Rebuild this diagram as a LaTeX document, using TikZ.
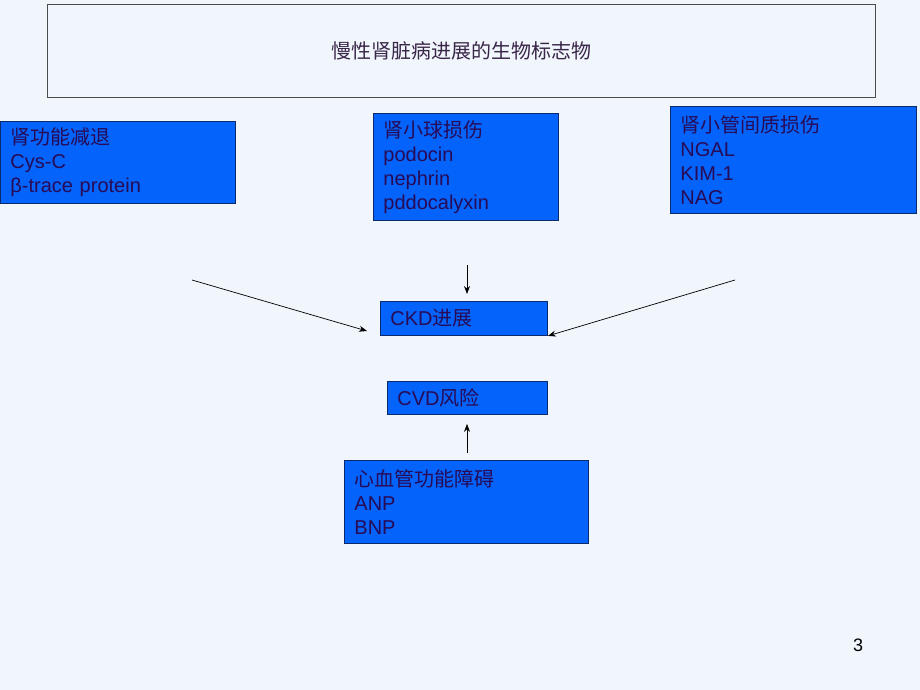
\documentclass[tikz,border=0pt]{standalone}
\usepackage{fontspec}
\setmainfont{Liberation Sans}
\newfontfamily\cjk{Noto Sans CJK SC}
\usetikzlibrary{arrows.meta}
\definecolor{bgc}{HTML}{F0F6FC}
\definecolor{boxc}{HTML}{0363FB}
\definecolor{boxline}{HTML}{0B2A6A}
\definecolor{txtc}{HTML}{280A55}
\definecolor{titlec}{HTML}{3A2648}
\begin{document}
\begin{tikzpicture}[x=1pt,y=-1pt,
  bluebox/.style={draw=boxline, line width=0.9pt, fill=boxc, anchor=north west,
    inner xsep=10pt, inner ysep=0pt, align=left, text=txtc,
    font=\fontsize{20}{24}\selectfont},
  arr/.style={-{Stealth[length=8pt,width=6pt]}, line width=0.7pt, black}]
\fill[bgc] (0,0) rectangle (920,690);
\useasboundingbox (0,0) rectangle (920,690);
% title
\node[draw=black!70, line width=0.8pt, fill=bgc, anchor=north west, minimum width=828pt,
  minimum height=93pt, inner sep=0pt, text=titlec, font=\fontsize{20}{22}\selectfont\cjk]
  (title) at (47,4) {慢性肾脏病进展的生物标志物};
% boxes
\node[bluebox, minimum width=235pt, minimum height=82pt, text width=215pt] (renal) at (0,121)
  {{\cjk 肾功能减退}\\Cys-C\\β-trace protein};
\node[bluebox, minimum width=185pt, minimum height=107pt, text width=165pt] (glom) at (373,113)
  {{\cjk 肾小球损伤}\\podocin\\nephrin\\pddocalyxin};
\node[bluebox, minimum width=246pt, minimum height=107pt, text width=226pt] (tub) at (670,106)
  {{\cjk 肾小管间质损伤}\\NGAL\\KIM-1\\NAG};
\node[bluebox, minimum width=167pt, minimum height=34pt, text width=147pt] (ckd) at (380,301)
  {CKD{\cjk 进展}};
\node[bluebox, minimum width=160pt, minimum height=33pt, text width=140pt] (cvd) at (387,381)
  {CVD{\cjk 风险}};
\node[bluebox, minimum width=244pt, minimum height=83pt, text width=224pt] (card) at (344,460)
  {{\cjk 心血管功能障碍}\\ANP\\BNP};
% arrow ends
\coordinate (l0) at (192,280);
\coordinate (l1) at (367,331);
\coordinate (m0) at (467,265);
\coordinate (r0) at (735,280);
\coordinate (b0) at (467,453);
\draw[arr] (l0) -- (l1);
\draw[arr, shorten >=7pt] (m0) -- (m0 |- ckd.north);
\draw[arr] (r0) -- (ckd.south east);
\draw[arr, shorten >=9pt] (b0) -- (b0 |- cvd.south);
% page number
\node[font=\fontsize{18}{20}\selectfont, text=black] (pg) at (858,645) {3};
\end{tikzpicture}
\end{document}
